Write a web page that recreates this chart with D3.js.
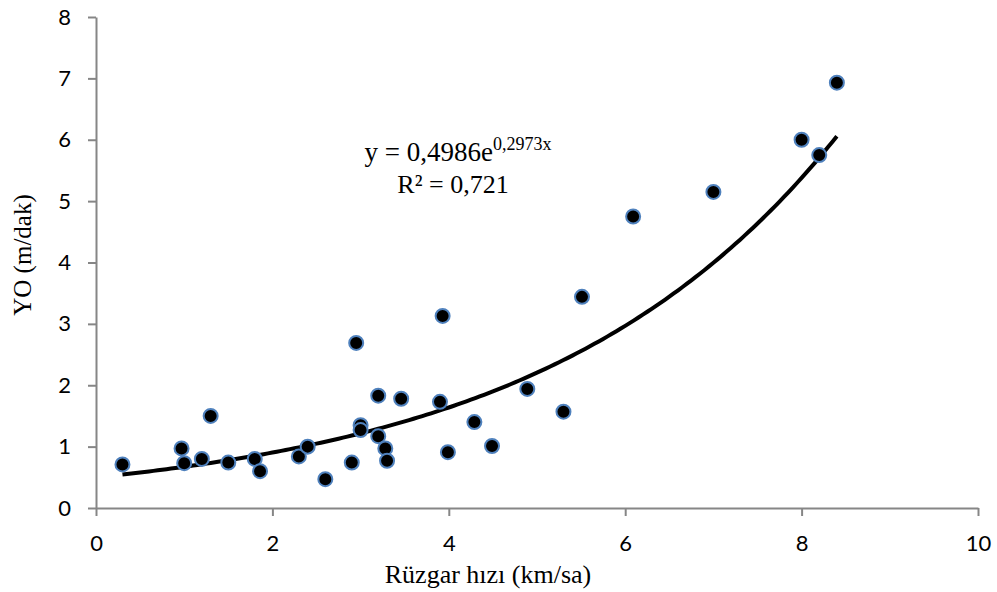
<!DOCTYPE html>
<html>
<head>
<meta charset="utf-8">
<script src="https://cdn.jsdelivr.net/npm/d3@7"></script>
<style>
  body { margin: 0; background: #fff; }
  .tick text { font-family: Lato, "Open Sans", sans-serif; font-size: 22px; fill: #000; }
</style>
</head>
<body>
<div id="chart"></div>
<script>
var wi = 997;
var he = 592;

// wind speed (km/sa) and YO (m/dak)
var windSpeed = [0.3, 0.97, 1.0, 1.2, 1.3, 1.5, 1.8, 1.86, 2.3, 2.4, 2.6, 2.9, 2.95, 3.0, 3.0, 3.2, 3.2, 3.28, 3.3, 3.46, 3.9, 3.93, 3.99, 4.29, 4.49, 4.89, 5.3, 5.51, 6.09, 7.0, 8.0, 8.2, 8.4];
var yoValues  = [0.71, 0.97, 0.73, 0.8, 1.5, 0.74, 0.8, 0.6, 0.84, 1.0, 0.47, 0.74, 2.69, 1.35, 1.27, 1.83, 1.17, 0.97, 0.77, 1.78, 1.73, 3.13, 0.91, 1.4, 1.01, 1.94, 1.57, 3.44, 4.75, 5.15, 6.0, 5.75, 6.93];
var xTicks = [0, 2, 4, 6, 8, 10];
var yTicks = [0, 1, 2, 3, 4, 5, 6, 7, 8];
var fitA = 0.4986, fitB = 0.2973;

var margin = {left: 96, right: 19, top: 17, bottom: 84};

var x = d3.scaleLinear().domain([0, 10]).range([margin.left, wi - margin.right]);
var y = d3.scaleLinear().domain([0, 8]).range([he - margin.bottom, margin.top]);

var svg = d3.select("#chart").append("svg")
    .attr("width", wi)
    .attr("height", he);

var xAxis = svg.append("g")
    .attr("transform", "translate(0," + y(0) + ")")
    .call(d3.axisBottom(x).tickValues(xTicks).tickSize(8).tickSizeOuter(0).tickPadding(19));
var yAxis = svg.append("g")
    .attr("transform", "translate(" + x(0) + ",0)")
    .call(d3.axisLeft(y).tickValues(yTicks).tickSize(8).tickSizeOuter(0).tickPadding(17));

[xAxis, yAxis].forEach(function(ax) {
  ax.select(".domain").attr("stroke", "#868686").attr("stroke-width", 2);
  ax.selectAll(".tick line").attr("stroke", "#868686").attr("stroke-width", 2);
});

// trend line
var fitX = d3.range(0.3, 8.4001, 0.05);
var line = d3.line()
    .x(function(d) { return x(d); })
    .y(function(d) { return y(fitA * Math.exp(fitB * d)); });
svg.append("path")
    .datum(fitX)
    .attr("d", line)
    .attr("fill", "none")
    .attr("stroke", "#000")
    .attr("stroke-width", 4);

svg.append("g").selectAll("circle")
    .data(windSpeed)
    .enter()
    .append("circle")
    .attr("cx", function(d) { return x(d); })
    .attr("cy", function(d, i) { return y(yoValues[i]); })
    .attr("r", 7)
    .attr("fill", "#000")
    .attr("stroke", "#4f81bd")
    .attr("stroke-width", 2);

// equation
var eq = svg.append("text")
    .attr("x", 458)
    .attr("y", 161)
    .attr("text-anchor", "middle")
    .style("font-family", "'Liberation Serif', serif")
    .style("font-size", "27px");
eq.append("tspan").text("y = 0,4986e");
eq.append("tspan").attr("dy", -11).style("font-size", "18px").text("0,2973x");

svg.append("text")
    .attr("x", 453)
    .attr("y", 193)
    .attr("text-anchor", "middle")
    .style("font-family", "'Liberation Serif', serif")
    .style("font-size", "26px")
    .text("R² = 0,721");

// axis titles
svg.append("text")
    .attr("x", 488)
    .attr("y", 583)
    .attr("text-anchor", "middle")
    .style("font-family", "'Liberation Serif', serif")
    .style("font-size", "26px")
    .text("Rüzgar hızı (km/sa)");

svg.append("text")
    .attr("transform", "translate(31," + 255 + ") rotate(-90)")
    .attr("text-anchor", "middle")
    .style("font-family", "'Liberation Serif', serif")
    .style("font-size", "25px")
    .text("YO (m/dak)");
</script>
</body>
</html>
